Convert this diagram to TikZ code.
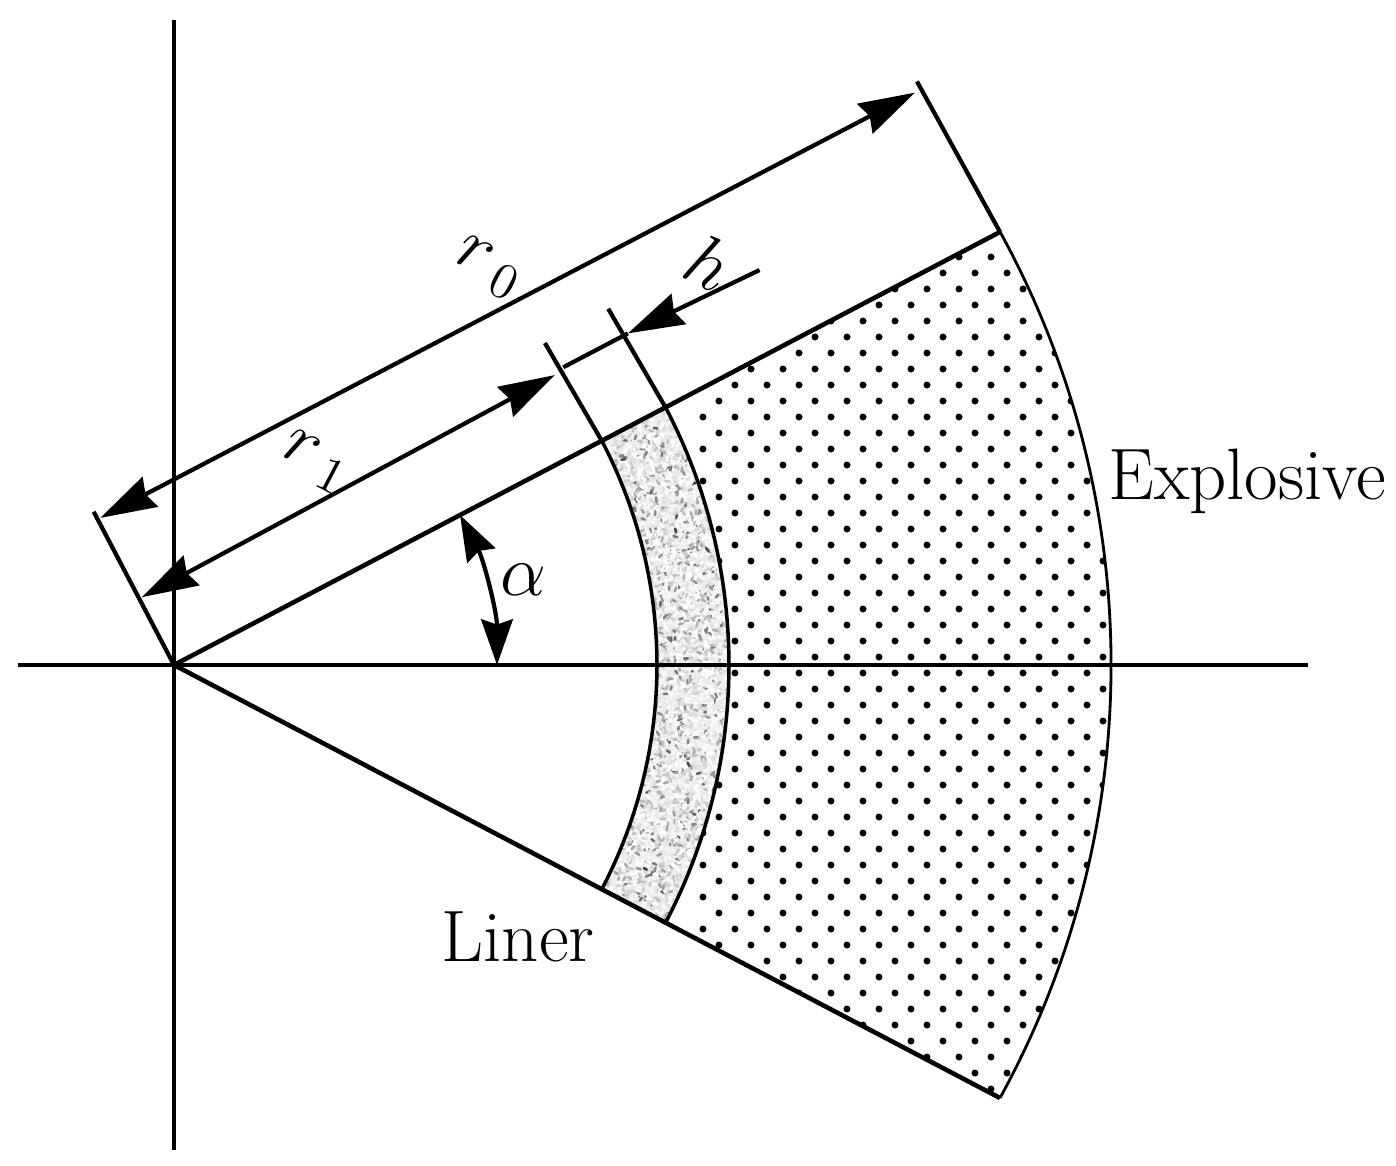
\documentclass[tikz,border=0pt]{standalone}
\usetikzlibrary{arrows.meta}

\begin{document}
\begin{tikzpicture}[
		axis/.style={line width=1.35pt},
		wall/.style={line width=1.3pt},
		rim/.style={line width=1pt},
		thinrim/.style={line width=0.8pt},
		limit/.style={line width=1.2pt},
		dimen/.style={line width=1.2pt,>={Stealth[length=16pt,width=9.5pt,inset=1.5pt]}},
		smalldimen/.style={line width=1.2pt,>={Stealth[length=13pt,width=9pt,inset=1.5pt]}},
		lab/.style={inner sep=0pt,font=\huge},
]

\def\wedgeang{27.66}
\def\rliner{4.83}
\def\rexpl{5.55}
% outer arc has its own centre
\def\rout{9}
\def\routang{28.77}

\useasboundingbox (-1.74,-5.01) rectangle (12.22,6.65);

% explosive
\begin{scope}
	\clip (-\wedgeang:\rexpl) arc[start angle=-\wedgeang,end angle=\wedgeang,radius=\rexpl]
		-- (8.27,4.33) arc[start angle=\routang,end angle=-\routang,radius=\rout] -- cycle;
	\foreach \row in {0,...,55} {
		\pgfmathsetmacro{\rowshift}{mod(\row,2)*0.16}
		\foreach \col in {-2,...,11} {
			\fill ({5.93+0.32*\col+\rowshift},{4.40-0.16*\row}) circle (0.035);
		}
	}
\end{scope}

% liner
\begin{scope}
	\clip (-\wedgeang:\rliner) arc[start angle=-\wedgeang,end angle=\wedgeang,radius=\rliner]
		-- (\wedgeang:\rexpl) arc[start angle=\wedgeang,end angle=-\wedgeang,radius=\rexpl] -- cycle;
	\fill [black!8] (4,-3) rectangle (6,3);
	\pgfmathsetseed{4711}
	\foreach \ring in {0,...,24} {
		\foreach \step in {0,...,138} {
			\pgfmathsetmacro{\spr}{\rliner+0.03*\ring+0.03*rnd}
			\pgfmathsetmacro{\spa}{-\wedgeang+0.4*\step+0.4*rnd}
			\pgfmathsetmacro{\spd}{rnd*360}
			\pgfmathsetmacro{\spg}{95*rnd*rnd*rnd}
			\draw [black!\spg,line width=0.7pt,line cap=round] (\spa:\spr) -- ++(\spd:0.04);
		}
	}
\end{scope}

% axes
\draw [axis] (-1.56,0) -- (11.34,0);
\draw [axis] (0,6.45) -- (0,-4.85);

% wedge
\coordinate (O) at (0,0);
\coordinate (Wt) at (8.26,4.33);
\coordinate (Wb) at (8.26,-4.33);
\draw [wall] (Wt) -- (O) -- (Wb);
\draw [thinrim] (Wb) arc[start angle=-\routang,end angle=\routang,radius=\rout];
\draw [rim] (-\wedgeang:\rliner) arc[start angle=-\wedgeang,end angle=\wedgeang,radius=\rliner];
\draw [rim] (-\wedgeang:\rexpl) arc[start angle=-\wedgeang,end angle=\wedgeang,radius=\rexpl];

% dimensions
\begin{scope}[rotate=\wedgeang]
	\coordinate (A0) at (0,1.73);
	\coordinate (A1) at (9.29,1.72);
	\coordinate (A2) at (4.78,1.13);
	\coordinate (A3) at (5.50,1.14);
	\coordinate (B2) at (\rliner,0);
	\coordinate (B3) at (\rexpl,0);
	\coordinate (Zl) at (0.03,1.645);
	\coordinate (Zr) at (9.22,1.63);
	\coordinate (Ol) at (0.03,0.75);
	\coordinate (Or) at (4.72,0.80);
	\coordinate (Hl) at (4.83,0.83);
	\coordinate (Hm) at (5.56,0.83);
	\coordinate (Hr) at (7.02,0.78);
\end{scope}

\draw [limit] (O) -- (A0);
\draw [limit] (Wt) -- (A1);
\draw [limit] (B2) -- (A2);
\draw [limit] (B3) -- (A3);

\draw [dimen,<->] (Zl) -- (Zr);
\draw [dimen,<->] (Ol) -- (Or);
\draw [dimen,->] (Hr) -- (Hm);
\draw [dimen] (Hm) -- (Hl);
\draw [smalldimen,<->] (3.23,0) arc[start angle=0,end angle=\wedgeang,radius=3.23];

% labels
\node [lab,rotate=-\wedgeang] (rzero) at (3.14,3.97) {$r_{\mskip4mu 0}$};
\node [lab,rotate=-\wedgeang] (rone) at (1.41,2.03) {$r_{\mskip4mu 1}$};
\node [lab,rotate=-\wedgeang] (hgt) at (5.35,4.02) {$h$};
\node [lab] (alpha) at (3.49,0.85) {$\alpha$};
\node [lab] (expl) at (10.73,1.84) {Explosive};
\node [lab] (liner) at (3.44,-2.72) {Liner};

\end{tikzpicture}
\end{document}
